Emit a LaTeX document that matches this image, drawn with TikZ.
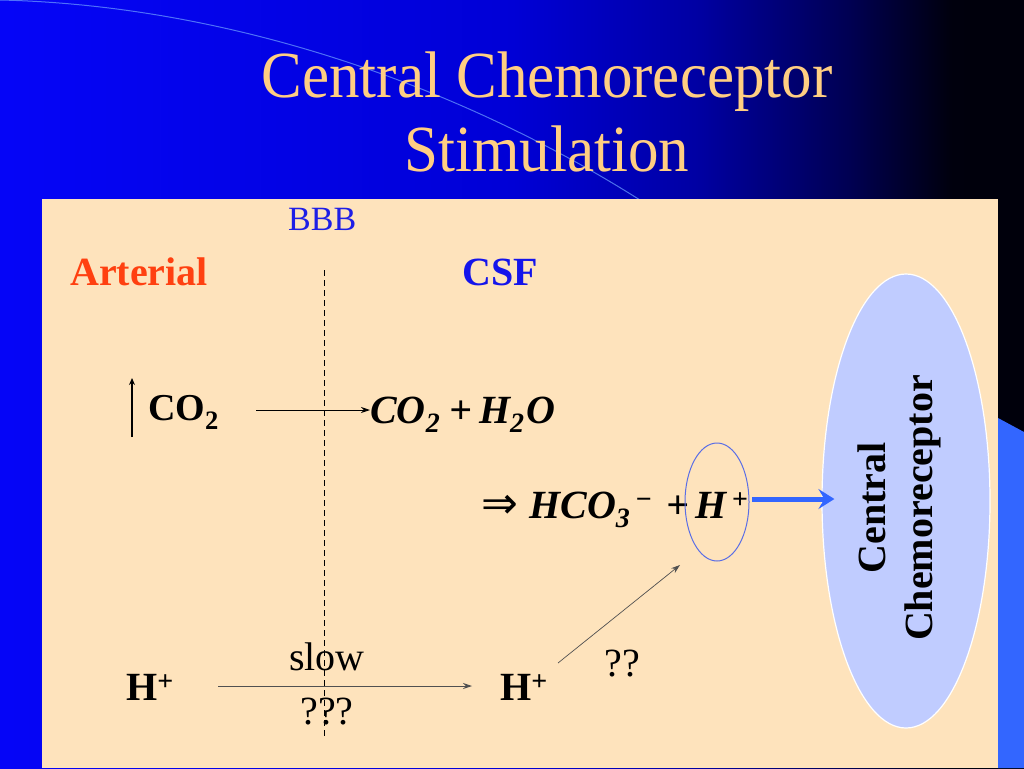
\documentclass[tikz,border=0pt]{standalone}
\usepackage{fontspec}
\setmainfont{Liberation Serif}
\newfontfamily\symfont{DejaVu Sans}
\usetikzlibrary{arrows.meta,shapes.geometric,calc}
\definecolor{beige}{RGB}{254,227,188}
\definecolor{titlecol}{RGB}{255,206,130}
\definecolor{bbbblue}{RGB}{30,30,230}
\definecolor{artred}{RGB}{255,64,16}
\definecolor{csfblue}{RGB}{20,20,235}
\definecolor{recfill}{RGB}{192,204,255}
\definecolor{hplus}{RGB}{90,110,230}
\definecolor{thickblue}{RGB}{51,102,255}
\definecolor{arcblue}{RGB}{110,160,255}
\definecolor{greyline}{RGB}{80,80,80}
\pgfdeclarehorizontalshading{bgshade}{100bp}{rgb(0bp)=(0.02,0.02,0.97); rgb(25bp)=(0.02,0.02,0.97); rgb(50bp)=(0,0,0.84); rgb(59bp)=(0,0,0.64); rgb(66.5bp)=(0,0,0.32); rgb(71.5bp)=(0,0,0.05); rgb(100bp)=(0,0,0)}
\tikzset{
  lbl/.style={inner sep=0pt, anchor=base west, font=\fontsize{40}{44}\selectfont},
  lblc/.style={inner sep=0pt, anchor=base, font=\fontsize{40}{44}\selectfont},
  thinarrow/.style={line width=0.9pt, -{Stealth[length=9pt,width=6pt,inset=3pt]}},
  titletxt/.style={inner sep=0pt, anchor=base, text=titlecol, font=\fontsize{61}{74}\selectfont},
}
\begin{document}
\begin{tikzpicture}[x=1pt,y=-1pt]
\useasboundingbox (0,0) rectangle (1024,768);
% background
\shade[shading=bgshade] (0,0) rectangle (1024,768);
\draw[arcblue, opacity=0.7, line width=1pt] (0,0) .. controls (220,5) and (450,80) .. (640,200);
\fill[thickblue] (998,418) -- (1024,432) -- (1024,768) -- (998,768) -- cycle;
\fill[beige] (42,199) rectangle (998,768);
% title
\node[titletxt] (t1) at (547,97) {\scalebox{1}[1.08]{Central Chemoreceptor}};
\node[titletxt] (t2) at (547,171) {\scalebox{1}[1.08]{Stimulation}};
% labels
\node[lbl, text=bbbblue, font=\fontsize{34}{40}\selectfont] (bbb) at (288,230) {BBB};
\node[lbl, text=artred, font=\fontsize{40}{44}\selectfont\bfseries] (art) at (70,285) {Arterial};
\node[lbl, text=csfblue, font=\fontsize{40}{44}\selectfont\bfseries] (csf) at (462,285) {CSF};
% barrier
\coordinate (bt) at (324,270);
\coordinate (bb) at (324,738);
\draw[dash pattern=on 6pt off 4pt, line width=0.8pt] (bt) -- (bb);
% CO2 row
\coordinate (upb) at (132,437);
\coordinate (upt) at (132,378);
\draw[line width=1.6pt, -{Stealth[length=7pt,width=6pt]}] (upb) -- (upt);
\node[lbl, font=\fontsize{38}{44}\selectfont\bfseries] (co2) at (148,420) {CO\textsubscript{2}};
\node[lbl, font=\fontsize{40}{44}\selectfont\bfseries\itshape] (eq1) at (370,423) {CO\textsubscript{2}\hspace{9pt}+\hspace{7pt}H\textsubscript{2}\hspace{2pt}O};
\coordinate (a1s) at (256,410);
\draw[thinarrow] (a1s) -- (eq1.west |- a1s);
% HCO3 row
\node[lbl, font=\fontsize{44}{48}\symfont] (imp) at (481,518) {⇒};
\node[lbl, font=\fontsize{40}{44}\selectfont\bfseries\itshape] (eq2) at (529,518) {HCO\textsubscript{3}\textsuperscript{\,−}\hspace{14pt}+\,H\textsuperscript{\,+}};
\node[draw=hplus, line width=1pt, ellipse, minimum width=64pt, minimum height=118pt, inner sep=0pt] (hcirc) at (717,502) {};
% receptor
\node[ellipse, fill=recfill, draw=white, line width=1.2pt, minimum width=168pt, minimum height=454pt, inner sep=0pt] (rec) at (906,501) {};
\node[rotate=90, align=center, inner sep=0pt, font=\fontsize{40}{47}\selectfont\bfseries] (rect) at (899,508) {Central\\Chemoreceptor};
\coordinate (ba) at (752,499);
\draw[thickblue, line width=5pt, -{Stealth[length=16pt,width=20pt,inset=6pt]}] (ba) -- ($(rec.west |- ba)+(13,0)$);
% H+ row
\node[lbl, font=\fontsize{40}{44}\selectfont\bfseries] (h1) at (126,700) {H\textsuperscript{+}};
\node[lbl, font=\fontsize{40}{44}\selectfont\bfseries] (h2) at (500,700) {H\textsuperscript{+}};
\coordinate (s1) at (218,686);
\draw[thinarrow, draw=greyline] (s1) -- ($(h2.west |- s1)+(-28,0)$);
\node[lblc] (slow) at (327,670) {slow};
\node[lblc] (q3) at (327,724) {???};
\node[lblc] (q2) at (622,676) {??};
\coordinate (d1) at (558,663);
\coordinate (d2) at (680,565);
\draw[thinarrow, line width=0.7pt, draw=greyline] (d1) -- (d2);
\end{tikzpicture}
\end{document}
